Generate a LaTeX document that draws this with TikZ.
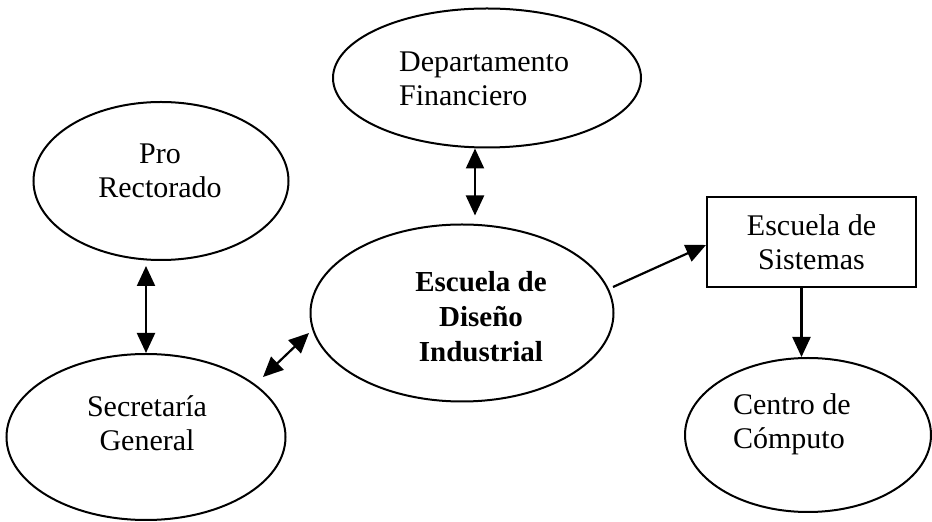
\documentclass[tikz,border=0pt]{standalone}
\usepackage{fontspec}
\setmainfont{Liberation Serif}
\usetikzlibrary{arrows.meta,shapes.geometric}
\tikzset{
  unit/.style={ellipse, draw, line width=2pt, inner sep=0pt},
  office/.style={rectangle, draw, line width=2pt, inner sep=0pt, align=center},
  caption/.style={inner sep=0pt, align=center}
}
\begin{document}
\begin{tikzpicture}[x=1pt, y=1pt, line width=2.2pt, >={Triangle[length=20pt,width=18pt]},
    font=\fontsize{30}{34}\selectfont]
  \useasboundingbox (0,0) rectangle (932,522);
  % units of the university
  \node (fin) [unit, minimum width=308pt, minimum height=139pt] at (487, 444) {};
  \node (pro) [unit, minimum width=255pt, minimum height=158pt] at (161, 341) {};
  \node (dis) [unit, minimum width=303pt, minimum height=177pt] at (462, 209) {};
  \node (sec) [unit, minimum width=279pt, minimum height=166pt] at (146, 85) {};
  \node (cen) [unit, minimum width=246pt, minimum height=154pt] at (808, 87) {};
  \node (sis) [office, minimum width=209pt, minimum height=90pt] at (811.5, 280) {Escuela de\\Sistemas};

  % names inside the ellipses
  \node (fintext) [caption, align=left, anchor=west] at (398, 443) {Departamento\\Financiero};
  \node (protext) [caption] at (160, 351) {Pro\\Rectorado};
  \node (distext) [caption, font=\fontsize{29}{35}\selectfont\bfseries] at (481, 205) {Escuela de\\Diseño\\Industrial};
  \node (sectext) [caption] at (147, 99) {Secretaría\\General};
  \node (centext) [caption, align=left, anchor=west] at (732, 98) {Centro de\\Cómputo};

  \draw[<->] ([xshift=-12pt]fin.south) -- ([xshift=13pt, yshift=8pt]dis.north);
  \draw[<->] ([yshift=-5pt]pro.south -| sec.north) -- (sec.north);
  \draw[<->] ([xshift=117pt, yshift=60pt]sec.center) -- ([xshift=-153pt, yshift=-20pt]dis.center);
  \draw[->] ([xshift=151pt, yshift=26pt]dis.center) -- ([yshift=-3pt]sis.west);
  \draw[->] ([xshift=-10pt]sis.south) -- ([xshift=-10pt]sis.south |- cen.north);
\end{tikzpicture}
\end{document}
